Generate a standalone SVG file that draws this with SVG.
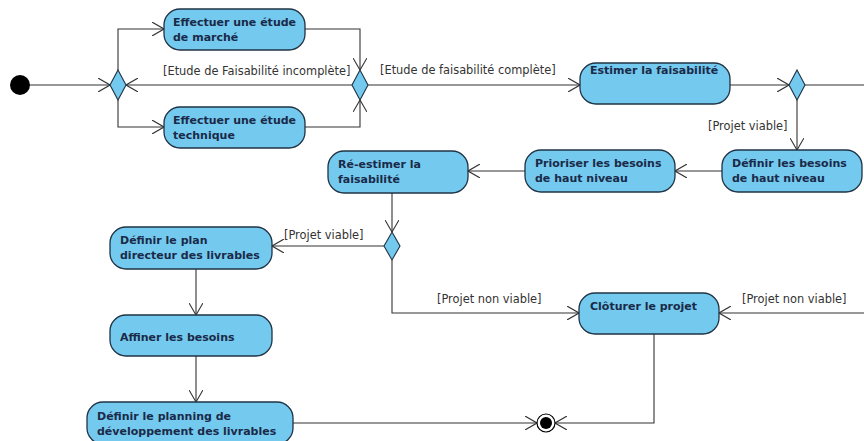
<svg xmlns="http://www.w3.org/2000/svg" width="864" height="441" viewBox="0 0 864 441">
<style>
.act{fill:#74c9ef;stroke:#1f3344;stroke-width:1.3}
.dia{fill:#74c9ef;stroke:#1f3344;stroke-width:1.1}
.t{font-family:"DejaVu Sans",sans-serif;font-size:11px;font-weight:bold;fill:#1a2a48}
.l{font-family:"DejaVu Sans",sans-serif;font-size:11.4px;fill:#333}
.c{fill:none;stroke:#333;stroke-width:1.1}
</style>
<defs>
<marker id="a" markerUnits="userSpaceOnUse" viewBox="0 0 12 14" markerWidth="12" markerHeight="14" refX="12" refY="7" orient="auto">
<path d="M0,0 L12,7 L0,14" fill="none" stroke="#333" stroke-width="1.1"/>
</marker>
</defs>
<rect width="864" height="441" fill="#fff"/>
<g id="connectors">
<path class="c" d="M30,85 H110" marker-end="url(#a)"/>
<path class="c" d="M118,70 V29 H164" marker-end="url(#a)"/>
<path class="c" d="M118,100 V127 H164" marker-end="url(#a)"/>
<path class="c" d="M305,29 H360 V70" marker-end="url(#a)"/>
<path class="c" d="M305,127 H360 V100" marker-end="url(#a)"/>
<path class="c" d="M352,85 H126" marker-end="url(#a)"/>
<text class="l" x="163" y="75">[Etude de Faisabilité incomplète]</text>
<path class="c" d="M368,85 H580" marker-end="url(#a)"/>
<text class="l" x="380" y="74">[Etude de faisabilité complète]</text>
<path class="c" d="M730,85 H789" marker-end="url(#a)"/>
<path class="c" d="M805,85 H864"/>
<path class="c" d="M797,100 V150" marker-end="url(#a)"/>
<text class="l" x="708" y="130">[Projet viable]</text>
<path class="c" d="M722,171 H675" marker-end="url(#a)"/>
<path class="c" d="M525,171 H468" marker-end="url(#a)"/>
<path class="c" d="M392,193 V232" marker-end="url(#a)"/>
<path class="c" d="M384,246 H272" marker-end="url(#a)"/>
<text class="l" x="284" y="239">[Projet viable]</text>
<path class="c" d="M392,260 V313 H579" marker-end="url(#a)"/>
<text class="l" x="437" y="303">[Projet non viable]</text>
<path class="c" d="M864,313 H719" marker-end="url(#a)"/>
<text class="l" x="742" y="303">[Projet non viable]</text>
<path class="c" d="M196,269 V315" marker-end="url(#a)"/>
<path class="c" d="M196,356 V402" marker-end="url(#a)"/>
<path class="c" d="M293,423 H537" marker-end="url(#a)"/>
<path class="c" d="M654,334 V423 H555" marker-end="url(#a)"/>
</g>
<g id="start"><circle cx="20" cy="85" r="10" fill="#000"/></g>
<g id="fork"><path class="dia" d="M118,70 L126,85 L118,100 L110,85 Z"/></g>
<g id="merge"><path class="dia" d="M360,70 L368,85 L360,100 L352,85 Z"/></g>
<g id="decision1"><path class="dia" d="M797,70 L805,85 L797,100 L789,85 Z"/></g>
<g id="decision2"><path class="dia" d="M392,232 L400,246 L392,260 L384,246 Z"/></g>
<g id="marche"><rect class="act" x="164" y="9" width="141" height="41" rx="16"/><text class="t" x="173" y="26">Effectuer une étude</text><text class="t" x="173" y="41">de marché</text></g>
<g id="technique"><rect class="act" x="164" y="107" width="141" height="41" rx="16"/><text class="t" x="173" y="124">Effectuer une étude</text><text class="t" x="173" y="139">technique</text></g>
<g id="estimer"><rect class="act" x="580" y="63" width="150" height="41" rx="16"/><text class="t" x="590" y="74">Estimer la faisabilité</text></g>
<g id="definir-besoins"><rect class="act" x="722" y="150" width="140" height="42" rx="16"/><text class="t" x="732" y="167">Définir les besoins</text><text class="t" x="732" y="182">de haut niveau</text></g>
<g id="prioriser"><rect class="act" x="525" y="150" width="150" height="42" rx="16"/><text class="t" x="535" y="167">Prioriser les besoins</text><text class="t" x="535" y="182">de haut niveau</text></g>
<g id="reestimer"><rect class="act" x="328" y="151" width="140" height="42" rx="16"/><text class="t" x="338" y="168">Ré-estimer la</text><text class="t" x="338" y="183">faisabilité</text></g>
<g id="plan"><rect class="act" x="110" y="227" width="162" height="42" rx="16"/><text class="t" x="120" y="244">Définir le plan</text><text class="t" x="120" y="259">directeur des livrables</text></g>
<g id="affiner"><rect class="act" x="110" y="315" width="162" height="41" rx="16"/><text class="t" x="120" y="341">Affiner les besoins</text></g>
<g id="planning"><rect class="act" x="87" y="402" width="206" height="42" rx="16"/><text class="t" x="97" y="420">Définir le planning de</text><text class="t" x="97" y="435">développement des livrables</text></g>
<g id="cloturer"><rect class="act" x="579" y="293" width="140" height="41" rx="16"/><text class="t" x="590" y="310">Clôturer le projet</text></g>
<g id="final"><circle cx="546" cy="423" r="9" fill="#fff" stroke="#000" stroke-width="1.2"/><circle cx="546" cy="423" r="6" fill="#000"/></g>
</svg>
